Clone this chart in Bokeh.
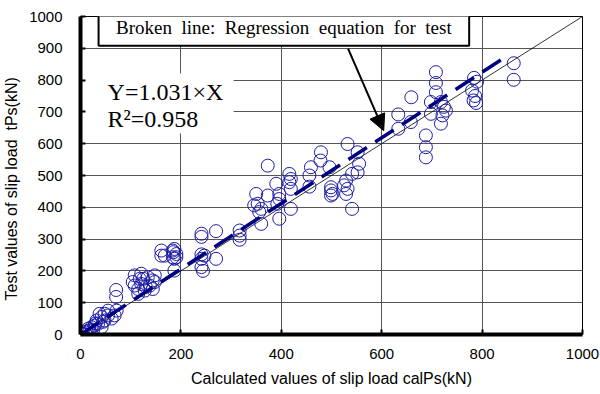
from bokeh.plotting import figure
from bokeh.models import (Range1d, FixedTicker, Label, Arrow, NormalHead,
                          BoxAnnotation, ColumnDataSource)
from bokeh.embed import file_html
from bokeh.resources import INLINE

# Calculated slip load calPs (kN) vs. test slip load tPs (kN)
calc_ps = [3, 2, 6, 9, 15, 18, 22, 28, 32, 35, 42, 48, 42, 55, 38, 48, 62, 68,
           72, 55, 25, 30, 12, 45, 71, 71,
           108, 104, 121, 125, 134, 144, 148, 115, 128, 115, 138, 121, 108,
           144, 148, 130, 118,
           161, 161, 168, 184, 187, 191, 187, 184, 191, 187, 185,
           241, 241, 241, 247, 241, 241, 244, 270, 270,
           317, 317, 317,
           373, 350, 353, 346, 360, 356, 373, 396, 396, 392, 360, 396, 390,
           416, 419, 416, 419, 419,
           479, 478, 459, 496, 456, 456, 499, 499,
           499, 502, 529, 525, 532, 529, 541, 541, 552, 555, 552, 532,
           633, 633, 659, 658, 688, 688, 688,
           698, 698, 708, 708, 708, 718, 724, 728, 721, 718,
           784, 780, 786, 783, 788, 790,
           863, 863]
test_ps = [3, 2, 1, 7, 18, 13, 23, 28, 44, 34, 23, 44, 55, 60, 65, 65, 50, 60,
           75, 75, 15, 35, 10, 40, 140, 118,
           186, 165, 191, 175, 180, 170, 165, 143, 138, 128, 154, 159, 154,
           143, 186, 150, 175,
           264, 248, 248, 264, 269, 253, 238, 243, 243, 201, 259,
           317, 307, 252, 248, 238, 212, 200, 325, 238,
           327, 311, 298,
           531, 442, 411, 406, 395, 385, 437, 442, 426, 411, 348, 364, 474,
           505, 489, 479, 395, 458,
           573, 547, 526, 526, 500, 465, 453, 437,
           463, 442, 484, 469, 458, 442, 395, 505, 510, 537, 573, 599,
           692, 647, 746, 668, 626, 589, 557,
           731, 694, 825, 791, 762, 731, 716, 704, 689, 663,
           807, 767, 750, 736, 728, 795,
           853, 801]

# Regression through the origin: Y = 1.031 X
slope = 1.031
r2 = 0.958
reg_x = [0, 850]
reg_y = [slope * v for v in reg_x]

# Reference line Y = X
ref_x = [0, 1000]
ref_y = [0, 1000]

x_ticks = [0, 200, 400, 600, 800, 1000]
y_ticks = [0, 100, 200, 300, 400, 500, 600, 700, 800, 900, 1000]

p = figure(width=600, height=394, output_backend="svg", toolbar_location=None,
           x_range=Range1d(0, 1000), y_range=Range1d(0, 1000),
           min_border_left=79, min_border_right=18, min_border_top=16,
           min_border_bottom=60)
p.background_fill_color = "white"
p.border_fill_color = "white"
p.outline_line_color = "black"
p.outline_line_width = 1

for ax in (p.xaxis[0], p.yaxis[0]):
    ax.axis_line_width = 4
    ax.axis_line_color = "black"
    ax.major_tick_in = 5
    ax.major_tick_out = 0
    ax.major_tick_line_width = 2
    ax.minor_tick_line_color = None
    ax.major_label_text_font = "Liberation Sans"
    ax.major_label_text_font_size = "15px"
    ax.major_label_text_color = "black"
    ax.axis_label_text_font = "Liberation Sans"
    ax.axis_label_text_font_size = "16px"
    ax.axis_label_text_font_style = "normal"
    ax.axis_label_text_color = "black"

p.xaxis.ticker = FixedTicker(ticks=x_ticks)
p.yaxis.ticker = FixedTicker(ticks=y_ticks)
p.xaxis.major_label_standoff = 14
p.yaxis.major_label_standoff = 18
p.xaxis.axis_label = "Calculated values of slip load calPs(kN)"
p.xaxis.axis_label_standoff = 8
p.yaxis.axis_label = "Test values of slip load\u00a0\u00a0tPs(kN)" + "\u00a0" * 6
p.yaxis.axis_label_standoff = 6

p.xgrid.ticker = FixedTicker(ticks=x_ticks)
p.ygrid.ticker = FixedTicker(ticks=y_ticks)
p.grid.grid_line_color = "#555555"
p.grid.grid_line_width = 1

# white panel behind the regression equation
p.add_layout(BoxAnnotation(left=0, right=305, bottom=632, top=821,
                           fill_color="white", fill_alpha=1.0,
                           line_color=None, level="underlay"))

# Y = X line
p.line(ref_x, ref_y, line_color="black", line_width=0.8)

# specimens
src = ColumnDataSource(dict(x=calc_ps, y=test_ps))
p.scatter("x", "y", source=src, marker="circle", size=13,
          fill_color=None, line_color="#1c1ca6", line_width=1)

# regression line (broken)
p.line(reg_x, reg_y, line_color="#000080", line_width=3.5, line_dash="22 10")

# equation text
p.add_layout(Label(x=54, y=764, text="Y=1.031\u00d7X",
                   text_font="Liberation Serif", text_font_size="24px",
                   text_color="black", text_baseline="middle"))
p.add_layout(Label(x=54, y=679, text="R\u00b2=%.3f" % r2,
                   text_font="Liberation Serif", text_font_size="24px",
                   text_color="black", text_baseline="middle"))

# legend box for the broken line with pointer
gap = "\u00a0\u00a0"
legend_text = "\u00a0\u00a0" + gap.join(
    ["Broken", "line:", "Regression", "equation", "for", "test"]) + "\u00a0\u00a0"
p.add_layout(Label(x=36, y=966, text=legend_text,
                   text_font="Liberation Serif", text_font_size="19px",
                   text_color="black", text_baseline="middle",
                   border_line_color="black", border_line_width=2,
                   background_fill_color="white", background_fill_alpha=1.0,
                   padding=8))
p.add_layout(Arrow(x_start=533, y_start=899, x_end=604, y_end=641,
                   line_color="black", line_width=2,
                   end=NormalHead(size=16, fill_color="black",
                                  line_color="black")))

open("out.html", "w").write(file_html(p, INLINE))
